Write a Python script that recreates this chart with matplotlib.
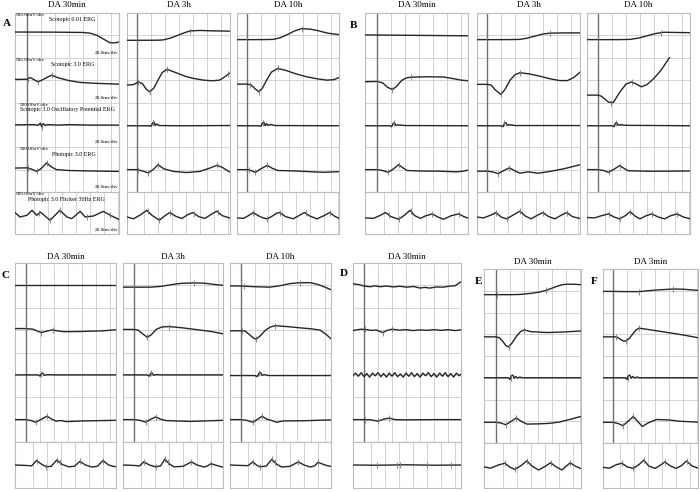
import numpy as np
import matplotlib.pyplot as plt

plt.rcParams['font.family'] = ['Liberation Serif', 'DejaVu Serif']

# ERG traces: (time ms after flash, amplitude uV)
# rows: scotopic 0.01, scotopic 3.0, scotopic 3.0 OPs, photopic 3.0, flicker 30Hz
A_30min = [
    [(-17, 75), (40, 72), (80, 65), (90, 50), (100, 0), (110, -90), (118, -160), (124, -170), (131, -150)],
    [(-17, 15), (0, 20), (5, 55), (10, 10), (16, -40), (25, 30), (35, 110), (45, 50), (60, -10),
     (75, -50), (95, -70), (131, -90)],
    [(-17, 0), (10, 5), (16, -10), (19, 40), (21, -40), (23, 30), (26, -10), (30, 5), (45, -5),
     (60, 5), (90, -5), (131, -5)],
    [(-17, 35), (0, 40), (5, 20), (14, -40), (20, 20), (28, 150), (35, 60), (42, 0), (60, -20),
     (90, -30), (131, -40)],
    [(-17, 7), (-10, -89), (0, -51), (7, 60), (14, -51), (19, 22), (33, -163), (47, 60), (57, -89),
     (64, -126), (76, 37), (83, -89), (95, -67), (109, 37), (119, -51), (131, -141)],
]
A_3h = [
    [(-14, -110), (0, -110), (30, -108), (38, -100), (48, -60), (58, 0), (68, 60), (76, 100),
     (90, 110), (110, 100), (132, 95)],
    [(-14, -110), (-5, -100), (2, -40), (8, -80), (13, -200), (18, -260), (24, -180), (30, 0),
     (36, 170), (43, 240), (50, 200), (60, 140), (70, 80), (80, 40), (95, 0), (107, -15),
     (118, 0), (126, 80), (132, 150)],
    [(-14, -20), (15, -20), (20, -30), (22, 30), (24, 70), (26, -10), (28, 20), (32, -15),
     (60, -20), (132, -15)],
    [(-14, 0), (0, 0), (8, -30), (16, -75), (23, 0), (30, 110), (38, 20), (52, -40), (71, -65),
     (90, -40), (105, 40), (114, 95), (122, 50), (132, -50)],
    [(-14, -90), (-5, -130), (5, -40), (14, 60), (22, -60), (32, -160), (40, -60), (47, 10),
     (55, -70), (64, -125), (72, -40), (80, 10), (88, -80), (97, -120), (106, -30), (114, 40),
     (122, -60), (132, -110)],
]
A_10h = [
    [(-14, -95), (20, -95), (38, -90), (48, -50), (58, 20), (68, 100), (78, 150), (90, 140),
     (100, 110), (115, 50), (132, 15)],
    [(-14, -90), (0, -88), (6, -110), (12, -200), (17, -260), (22, -180), (28, 0), (35, 180),
     (44, 260), (55, 220), (70, 140), (85, 75), (100, 30), (114, 0), (124, 10), (132, 60)],
    [(-14, -20), (16, -20), (20, -30), (22, 40), (24, 60), (26, -20), (28, 30), (30, -10),
     (34, 10), (40, -15), (132, -20)],
    [(-14, 0), (0, 0), (4, -10), (12, -60), (20, 20), (29, 95), (36, 30), (44, -20), (70, -30),
     (95, -50), (110, -60), (132, -45)],
    [(-14, -110), (-5, -120), (2, -60), (9, 10), (16, -60), (23, -110), (29, -130), (36, -70),
     (43, 0), (47, 10), (55, -80), (66, -130), (74, -60), (82, 10), (90, -70), (100, -130),
     (110, -60), (118, 10), (125, -70), (132, -125)],
]
B_30min = [
    [(-17, 10), (60, 0), (131, -10)],
    [(-17, -35), (0, -30), (8, -60), (15, -160), (22, -210), (28, -140), (35, -10), (42, 50),
     (48, 65), (70, 75), (95, 70), (110, 30), (120, 0), (131, -15)],
    [(-17, -20), (18, -20), (21, -40), (23, 30), (25, 50), (27, -10), (30, 0), (40, -15),
     (131, -20)],
    [(-17, 0), (0, 0), (8, -20), (16, -60), (23, 10), (31, 110), (37, 40), (43, -20), (60, -30),
     (90, -35), (114, -50), (125, -30), (131, -5)],
    [(-17, -110), (-5, -120), (5, -50), (12, 10), (20, -80), (31, -140), (40, -40), (47, 60),
     (54, -60), (62, -120), (70, -60), (79, -20), (87, -90), (95, -140), (106, -60), (117, -20),
     (124, -80), (131, -120)],
]
B_3h = [
    [(-14, -95), (30, -95), (47, -90), (58, -60), (70, -10), (80, 30), (90, 50), (110, 55),
     (133, 55)],
    [(-14, -95), (0, -95), (6, -110), (12, -220), (20, -320), (26, -200), (33, 0), (40, 120),
     (47, 165), (60, 140), (75, 90), (90, 30), (104, -10), (115, -10), (124, 60), (133, 180)],
    [(-14, -20), (20, -20), (23, -40), (25, 40), (27, 50), (29, -10), (32, 5), (40, -15),
     (133, -15)],
    [(-14, -35), (0, -35), (8, -50), (16, -90), (24, -20), (32, 40), (40, -30), (47, -80),
     (59, -50), (73, -80), (90, -40), (110, 20), (133, 110)],
    [(-14, -90), (-5, -110), (5, -50), (13, 10), (20, -90), (28, -130), (38, -40), (47, 40),
     (55, -70), (63, -130), (72, -50), (80, 10), (88, -80), (97, -130), (106, -50), (114, 10),
     (122, -80), (133, -125)],
]
B_10h = [
    [(-16, -95), (30, -95), (46, -90), (58, -60), (70, -10), (82, 40), (94, 70), (110, 65),
     (132, 60)],
    [(-16, -335), (0, -335), (5, -360), (10, -430), (15, -490), (19, -505), (22, -505),
     (25, -420), (32, -250), (40, -90), (48, -40), (55, -90), (62, -150), (70, -100), (80, 40),
     (90, 220), (102, 500)],
    [(-16, -20), (20, -20), (23, -40), (25, 40), (27, 50), (29, -10), (32, 5), (40, -10),
     (132, -20)],
    [(-16, 0), (0, 0), (8, -20), (15, -60), (23, 10), (31, 90), (37, 30), (43, -25), (70, -35),
     (100, -35), (132, -30)],
    [(-16, -100), (-5, -110), (5, -60), (15, -20), (23, -90), (31, -130), (40, -50), (46, 30),
     (53, -70), (60, -130), (69, -60), (77, -20), (86, -90), (95, -130), (104, -60), (113, -20),
     (122, -90), (132, -130)],
]
C_30min = [
    [(-16, 0), (60, 0), (130, 0)],
    [(-16, 35), (0, 35), (10, 20), (16, -20), (22, -55), (30, -20), (38, 5), (46, -20), (55, -35),
     (80, -30), (110, -15), (130, 10)],
    [(-16, 0), (18, 0), (20, -30), (22, 30), (24, 40), (26, -10), (30, 5), (40, 0), (130, 0)],
    [(-16, 0), (0, 0), (7, -20), (14, -60), (22, 10), (30, 75), (37, 10), (43, -35), (50, -20),
     (57, -45), (80, -30), (130, -15)],
    [(-16, 0), (0, -10), (8, -20), (15, 100), (22, 20), (29, -40), (36, -30), (44, 110), (52, 10),
     (61, -40), (69, -30), (77, 80), (85, 0), (94, -45), (102, -30), (110, 100), (118, 0),
     (125, -30), (130, -40)],
]
C_3h = [
    [(-16, -40), (0, -40), (24, -40), (40, -20), (55, 20), (67, 45), (85, 55), (100, 50),
     (115, 20), (128, 0)],
    [(-16, 15), (0, 15), (6, 0), (12, -80), (19, -160), (25, -100), (32, 20), (40, 70), (50, 80),
     (70, 50), (90, 10), (110, -30), (128, -85)],
    [(-16, 0), (19, 0), (22, -30), (24, 35), (26, 40), (28, -10), (31, 5), (40, 0), (128, 0)],
    [(-16, 0), (0, 0), (8, -15), (17, -55), (24, 10), (31, 60), (38, 10), (45, -20), (60, -30),
     (81, -40), (100, -30), (128, -15)],
    [(-16, 0), (0, -10), (8, -20), (14, 70), (22, 0), (31, -40), (38, -20), (44, 130), (50, 30),
     (57, -40), (70, -30), (82, 70), (90, 0), (100, -45), (105, -20), (110, 30), (120, -20),
     (128, -50)],
]
C_10h = [
    [(-16, -10), (0, -15), (20, -30), (41, -40), (55, -10), (70, 40), (84, 60), (99, 60),
     (110, 20), (120, -40), (129, -100)],
    [(-16, -15), (0, -15), (6, -20), (12, -100), (18, -180), (22, -200), (28, -120), (35, 0),
     (42, 70), (49, 100), (65, 80), (85, 50), (100, 30), (113, 0), (122, -100), (129, -200)],
    [(-16, -15), (20, -15), (23, -40), (26, 40), (28, 50), (30, -10), (33, 5), (40, -15),
     (129, -15)],
    [(-16, 0), (0, 0), (8, -15), (17, -60), (23, 0), (30, 75), (37, 10), (44, -20), (51, -60),
     (60, -30), (90, -25), (129, -5)],
    [(-16, 0), (0, -10), (10, -15), (17, 70), (22, 0), (27, -40), (36, -25), (44, 130), (50, 30),
     (58, -45), (70, -30), (82, 70), (90, 0), (99, -45), (105, -20), (110, 60), (120, 0),
     (129, -35)],
]
D_30min = [
    [(-16, 35), (-8, 20), (0, -15), (9, -30), (16, -10), (23, -30), (32, -15), (42, -35),
     (51, -20), (61, -40), (71, -25), (80, -60), (87, -45), (94, -60), (104, -35), (113, -40),
     (123, -15), (130, -10), (138, 75)],
    [(-16, -10), (-5, 20), (2, 15), (10, -5), (18, 0), (27, -55), (33, -5), (40, 20), (50, 0),
     (60, 10), (70, -10), (80, 5), (90, -5), (100, 10), (110, -5), (120, 10), (130, -10),
     (138, 5)],
    [(-16, -20), (-12, 40), (-8, -30), (-4, 50), (0, -40), (4, 30), (8, -50), (12, 40),
     (16, -20), (20, 50), (24, -40), (28, 30), (32, -50), (36, 40), (40, -30), (44, 50),
     (48, -40), (52, 20), (56, -50), (60, 40), (64, -30), (68, 50), (72, -40), (76, 30),
     (80, -50), (84, 40), (88, -20), (92, 50), (96, -40), (100, 30), (104, -50), (108, 40),
     (112, -30), (116, 50), (120, -40), (124, 30), (128, -50), (132, 40), (136, -20), (138, 10)],
    [(-16, 0), (0, 0), (10, -5), (20, -35), (28, 10), (36, 35), (44, 0), (60, -5), (100, 0),
     (138, 0)],
    [(-16, 0), (20, -5), (60, 5), (100, -5), (138, 0)],
]
E_30min = [
    [(-17, -90), (0, -90), (20, -90), (34, -85), (50, -60), (62, -30), (72, 10), (85, 90),
     (95, 140), (101, 150), (110, 150), (121, 140)],
    [(-17, -60), (0, -60), (5, -80), (10, -170), (14, -260), (18, -290), (23, -200), (29, -50),
     (35, 60), (40, 100), (50, 60), (72, 40), (95, 50), (121, 75)],
    [(-17, 0), (18, 0), (20, -40), (22, 50), (24, 60), (26, -10), (28, 30), (31, -5), (34, 15),
     (38, 0), (121, 0)],
    [(-17, -25), (0, -25), (7, -40), (14, -80), (21, -10), (29, 75), (36, 0), (44, -65),
     (60, -60), (75, -50), (90, -20), (105, 40), (121, 110)],
    [(-17, -30), (-8, -60), (5, 20), (13, 50), (20, -40), (27, -85), (36, 0), (44, 105),
     (52, -20), (61, -100), (70, -20), (78, 60), (86, -30), (94, -100), (100, -20), (106, 60),
     (114, -20), (121, -65)],
]
F_3min = [
    [(-14, -15), (0, -15), (20, -20), (37, -20), (50, 0), (65, 20), (86, 40), (100, 35),
     (121, 10)],
    [(-14, -60), (0, -60), (5, -60), (10, -110), (14, -150), (18, -160), (23, -100), (28, 0),
     (33, 100), (37, 140), (50, 110), (70, 60), (90, 10), (105, -30), (121, -80)],
    [(-14, 0), (18, 0), (20, -40), (22, 50), (24, 60), (26, -10), (28, 30), (31, -5), (34, 15),
     (38, 0), (121, 0)],
    [(-14, -25), (0, -25), (7, -50), (14, -100), (21, -10), (29, 110), (35, 0), (42, -120),
     (50, -40), (62, 40), (80, 30), (95, 0), (121, -20)],
    [(-14, -40), (-5, -60), (5, 20), (13, 50), (20, -30), (29, -65), (37, 20), (44, 120),
     (51, -10), (60, -65), (67, 0), (74, 80), (82, -10), (90, -65), (98, 0), (105, 100),
     (113, -10), (121, -55)],
]

# cursor marks (ms) placed on each trace
marks_A_30min = [[], [2, 16, 35], [21], [2, 14, 28], [17, 33, 47, 86, 119]]
marks_A_3h = [[0, 76], [2, 18, 43, 130], [23], [2, 16, 30, 114], [15, 32, 47, 82, 115]]
marks_A_10h = [[0, 78], [4, 17, 44], [23], [3, 12, 29], [9, 29, 47, 84, 118]]
marks_B_30min = [[], [0, 22, 48], [24], [0, 16, 31], [17, 31, 48, 78, 117]]
marks_B_3h = [[0, 90], [20, 47], [25], [0, 16, 32], [13, 28, 47, 80, 114]]
marks_B_10h = [[0, 90], [19, 48], [25], [0, 15, 31], [15, 31, 46, 77, 113]]
marks_C_30min = [[], [0, 22, 38], [22], [0, 14, 30], [15, 29, 44, 48, 77, 110]]
marks_C_3h = [[0, 85], [19, 50], [24], [0, 17, 31], [14, 31, 44, 48, 82, 110]]
marks_C_10h = [[4, 84], [2, 22, 49], [26], [0, 17, 30], [17, 27, 44, 48, 82, 110]]
marks_D_30min = [[], [2, 27, 40], [], [2, 20, 36], [19, 47, 52, 90, 124]]
marks_E_30min = [[2, 72], [18, 40], [21], [0, 14, 29], [13, 27, 44, 78, 106]]
marks_F_3min = [[37, 86], [4, 18, 37], [21], [0, 14, 29], [13, 29, 44, 74, 105]]

protocols = ["Scotopic 0.01 ERG", "Scotopic 3.0 ERG", "Scotopic 3.0 Oscillatory Potential ERG",
             "Photopic 3.0 ERG", "Photopic 3.0 Flicker 30Hz ERG"]

W, H = 700, 492
PX_PER_MS = 14 / 20.0
UV_PER_DIV = 500.0
GRID = '#cccccc'
EDGE = '#bdbdbd'

fig = plt.figure(figsize=(7, 4.92), dpi=100)


def px_axes(l, t, r, b):
    ax = fig.add_axes([l / W, 1 - b / H, (r - l) / W, (b - t) / H])
    ax.set_xticks([])
    ax.set_yticks([])
    for s in ax.spines.values():
        s.set_color(EDGE)
        s.set_linewidth(0.8)
    return ax


def draw_marks(ax, t, y, times):
    if times:
        ax.plot(times, np.interp(times, t, y), ls='none', marker='|', ms=4,
                mew=0.6, color='#777777', zorder=4)


def draw_column(traces, marks, box, title, title_y):
    left, right, stim, top, mid, bottom = box
    xlo, xhi = (left - stim) / PX_PER_MS, (right - stim) / PX_PER_MS

    ax = px_axes(left, top, right, mid)
    ax.set_xlim(xlo, xhi)
    ax.set_ylim(0, 8)
    for g in np.arange(20, xhi, 20):
        ax.axvline(g, color=GRID, lw=0.6, zorder=0)
    for g in range(1, 8):
        ax.axhline(g, color=GRID, lw=0.6, zorder=0)
    ax.axvline(0, color='#707070', lw=1.0, zorder=1)
    for k in range(4):
        t, v = np.array(traces[k], dtype=float).T
        y = 7 - 2 * k + np.clip(v, -UV_PER_DIV, UV_PER_DIV) / UV_PER_DIV
        ax.plot(t, y, color='#262626', lw=1.0, zorder=3)
        draw_marks(ax, t, y, marks[k])

    half = (bottom - mid) / 2 / 22.4
    ax2 = px_axes(left, mid, right, bottom)
    ax2.set_xlim(xlo, xhi)
    ax2.set_ylim(-half, half)
    for g in np.arange(10, xhi, 20):
        ax2.axvline(g, color=GRID, lw=0.6, zorder=0)
    t, v = np.array(traces[4], dtype=float).T
    y = v / UV_PER_DIV
    ax2.plot(t, y, color='#262626', lw=1.0, zorder=3)
    draw_marks(ax2, t, y, marks[4])

    fig.text((left + right) / 2 / W, 1 - title_y / H, title, ha='center', va='center',
             fontsize=6.5)


top_row = (13, 192, 234)
low_row = (263, 442, 488)
ef_row = (269, 443, 488)

columns = [
    (A_30min, marks_A_30min, (15, 119, 27) + top_row, "DA 30min", 5),
    (A_3h, marks_A_3h, (127, 230, 137) + top_row, "DA 3h", 5),
    (A_10h, marks_A_10h, (237, 339, 247) + top_row, "DA 10h", 5),
    (B_30min, marks_B_30min, (365, 468, 377) + top_row, "DA 30min", 5),
    (B_3h, marks_B_3h, (477, 580, 487) + top_row, "DA 3h", 5),
    (B_10h, marks_B_10h, (587, 690, 598) + top_row, "DA 10h", 5),
    (C_30min, marks_C_30min, (15, 116, 26) + low_row, "DA 30min", 257),
    (C_3h, marks_C_3h, (123, 223, 134) + low_row, "DA 3h", 257),
    (C_10h, marks_C_10h, (230, 331, 241) + low_row, "DA 10h", 257),
    (D_30min, marks_D_30min, (353, 461, 364) + low_row, "DA 30min", 257),
    (E_30min, marks_E_30min, (484, 581, 496) + ef_row, "DA 30min", 262),
    (F_3min, marks_F_3min, (603, 698, 613) + ef_row, "DA 3min", 262),
]
for traces, marks, box, title, ty in columns:
    draw_column(traces, marks, box, title, ty)

# instrument annotations in the first recording column
row_tops = [13, 57.75, 102.5, 147.25, 192]
name_x = [72, 73, 67, 74, 66]
scale_x = [16, 16, 20, 20, 16]
for r in range(5):
    y0 = row_tops[r]
    bottom_gap = 38 if r == 4 else 40
    fig.text(scale_x[r] / W, 1 - (y0 + 2) / H, "500.00uV/div", fontsize=3.8, va='center')
    fig.text(name_x[r] / W, 1 - (y0 + 7) / H, protocols[r], fontsize=4.3, ha='center',
             va='center')
    fig.text(118 / W, 1 - (y0 + bottom_gap) / H, "20.0ms/div", fontsize=3.8, ha='right',
             va='center')

for letter, x, y in [("A", 7, 24), ("B", 354, 25), ("C", 6, 275), ("D", 344, 274),
                     ("E", 479, 282), ("F", 594, 282)]:
    fig.text(x / W, 1 - y / H, letter, fontsize=8, fontweight='bold', ha='center', va='center')

fig.savefig('out.png', dpi=100)
